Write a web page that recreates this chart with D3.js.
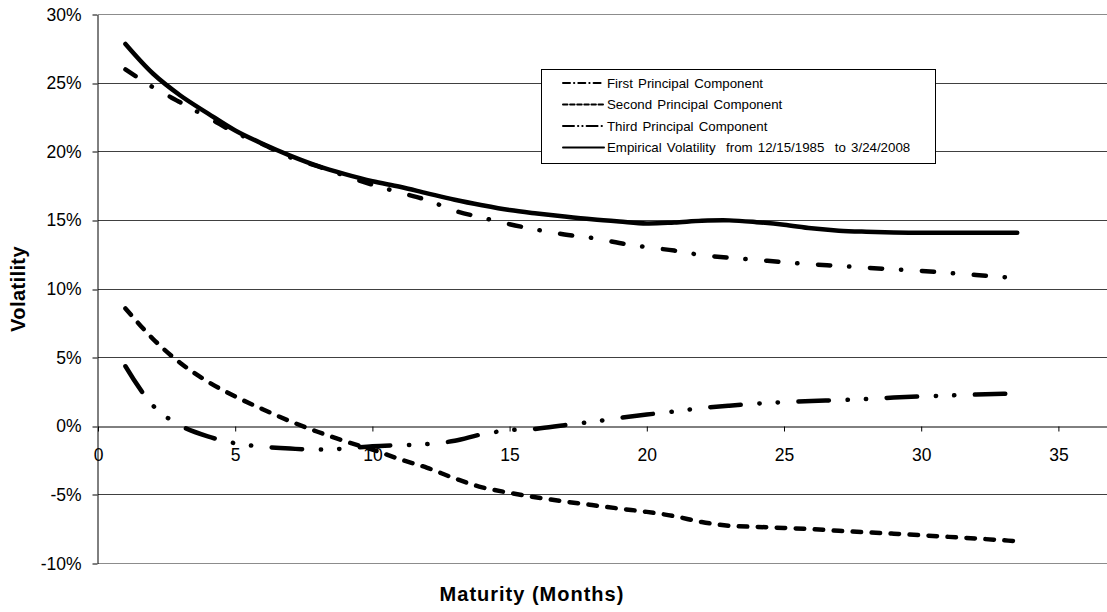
<!DOCTYPE html>
<html>
<head>
<meta charset="utf-8">
<script src="https://cdn.jsdelivr.net/npm/d3@7"></script>
<style>
  body { margin: 0; background: #fff; }
  svg { display: block; font-family: "Liberation Sans", Arial, sans-serif; }
</style>
</head>
<body>
<svg id="chart" width="1107" height="612"></svg>
<script>
// Maturity in months
const maturities = [1, 2, 3, 4, 5, 6, 7, 8, 9, 10, 11, 12, 13, 14, 15, 16, 17,
  18, 19, 20, 21, 22, 23, 24, 25, 26, 27, 28, 29, 30, 31, 32, 33, 33.5];

// Volatility (%) by maturity
const firstPC = [26.0, 24.7, 23.6, 22.5, 21.4, 20.55, 19.6, 18.95, 18.25, 17.6,
  17.03, 16.47, 15.7, 15.2, 14.72, 14.32, 13.97, 13.72, 13.35, 13.05, 12.8, 12.47,
  12.28, 12.12, 11.95, 11.8, 11.68, 11.55, 11.43, 11.32, 11.17, 11.02, 10.87, 10.8];
const secondPC = [8.58, 6.37, 4.61, 3.25, 2.17, 1.24, 0.37, -0.4, -1.09, -1.7,
  -2.4, -3.03, -3.8, -4.45, -4.85, -5.19, -5.48, -5.74, -6.0, -6.24, -6.55, -6.98,
  -7.25, -7.33, -7.41, -7.5, -7.62, -7.73, -7.83, -7.94, -8.06, -8.18, -8.31, -8.38];
const thirdPC = [4.37, 1.51, 0.05, -0.74, -1.24, -1.49, -1.63, -1.69, -1.63, -1.46,
  -1.38, -1.3, -1.06, -0.58, -0.29, -0.18, 0.08, 0.32, 0.6, 0.85, 1.08, 1.33,
  1.5, 1.65, 1.76, 1.84, 1.9, 1.98, 2.09, 2.17, 2.24, 2.31, 2.36, 2.38];
const empirical = [27.85, 25.7, 24.1, 22.8, 21.55, 20.58, 19.72, 18.97, 18.37, 17.85,
  17.45, 16.97, 16.5, 16.1, 15.75, 15.5, 15.28, 15.08, 14.92, 14.78, 14.85, 14.97,
  15.0, 14.87, 14.68, 14.42, 14.25, 14.17, 14.12, 14.1, 14.1, 14.1, 14.1, 14.1];

const seriesNames = [
  "First Principal Component",
  "Second Principal Component",
  "Third Principal Component",
  "Empirical Volatility  from 12/15/1985  to 3/24/2008"
];

const yTicks = [-10, -5, 0, 5, 10, 15, 20, 25, 30];
const xTicks = [0, 5, 10, 15, 20, 25, 30, 35];

const svg = d3.select("#chart");

const x = d3.scaleLinear().domain([0, 40]).range([98, 98 + 40 * 27.44]);
const y = d3.scaleLinear().domain([-10, 30]).range([563.5, 14.5]);
const crisp = v => Math.round(v - 0.5) + 0.5;

// horizontal gridlines
svg.append("g").selectAll("line")
  .data(yTicks.filter(d => d !== 0))
  .join("line")
  .attr("x1", x(0)).attr("x2", x(40))
  .attr("y1", d => crisp(y(d))).attr("y2", d => crisp(y(d)))
  .attr("stroke", d => (d === 30 || d === -10) ? "#8c8c8c" : "#404040")
  .attr("stroke-width", 1);

// y axis
const yAxis = svg.append("g")
  .attr("transform", `translate(${crisp(x(0)) - 1},0)`)
  .call(d3.axisLeft(y).tickValues(yTicks).tickFormat(d => d + "%")
    .tickSize(5).tickSizeOuter(0).tickPadding(11));
yAxis.select(".domain").attr("stroke", "#000");
yAxis.selectAll(".tick line").attr("stroke", "#000")
  .attr("transform", d => `translate(0,${crisp(y(d)) - y(d)})`);
yAxis.selectAll("text").attr("font-size", 17.5).attr("fill", "#000")
  .attr("font-family", "Liberation Sans, Arial, sans-serif");

// x axis at zero
const xAxis = svg.append("g")
  .attr("transform", `translate(0,${crisp(y(0))})`)
  .call(d3.axisBottom(x).tickValues(xTicks).tickFormat(d3.format("d"))
    .tickSize(5).tickSizeOuter(0).tickPadding(17));
xAxis.select(".domain").attr("stroke", "#000");
xAxis.selectAll(".tick line").attr("stroke", "#000");
xAxis.selectAll("text").attr("font-size", 17.5).attr("fill", "#000")
  .attr("font-family", "Liberation Sans, Arial, sans-serif");

// series lines
const styles = [
  { data: firstPC, dash: "12.2 18.85 0.3 20.65", legendDash: "7 4 0.3 4" },
  { data: secondPC, dash: "8.5 10.5", legendDash: "4.5 2.6" },
  { data: thirdPC, dash: "30.5 18.7 0.3 18 0.3 20.5", legendDash: "11 4 0.3 4 0.3 4" },
  { data: empirical, dash: null, legendDash: null }
];

const line = d3.line()
  .x((d, i) => x(maturities[i]))
  .y(d => y(d))
  .curve(d3.curveCatmullRom.alpha(0.5));

svg.append("g").selectAll("path")
  .data(styles)
  .join("path")
  .attr("d", s => line(s.data))
  .attr("fill", "none")
  .attr("stroke", "#000")
  .attr("stroke-width", 4.5)
  .attr("stroke-linecap", "round")
  .attr("stroke-linejoin", "round")
  .attr("stroke-dasharray", s => s.dash);

// legend
const lg = svg.append("g");
lg.append("rect")
  .attr("x", 541.5).attr("y", 69.5).attr("width", 394).attr("height", 94)
  .attr("fill", "#fff").attr("stroke", "#000").attr("stroke-width", 1);
const rowY = [83, 104.5, 126, 147.5];
const rows = lg.selectAll("g.row").data(styles).join("g")
  .attr("class", "row")
  .attr("transform", (d, i) => `translate(0,${rowY[i]})`);
rows.append("line")
  .attr("x1", 563).attr("x2", 604)
  .attr("stroke", "#000").attr("stroke-width", 2)
  .attr("stroke-linecap", "round")
  .attr("stroke-dasharray", s => s.legendDash);
rows.append("text")
  .attr("x", 607).attr("dy", "0.36em")
  .attr("font-size", 13.3)
  .attr("word-spacing", 1.5)
  .style("white-space", "pre")
  .text((d, i) => seriesNames[i]);

// axis titles
svg.append("text")
  .attr("transform", "translate(25,289) rotate(-90)")
  .attr("text-anchor", "middle")
  .attr("font-size", 20).attr("font-weight", "bold")
  .attr("letter-spacing", 0.4)
  .text("Volatility");
svg.append("text")
  .attr("x", 532).attr("y", 601)
  .attr("text-anchor", "middle")
  .attr("font-size", 20).attr("font-weight", "bold")
  .attr("letter-spacing", 1)
  .text("Maturity (Months)");
</script>
</body>
</html>
